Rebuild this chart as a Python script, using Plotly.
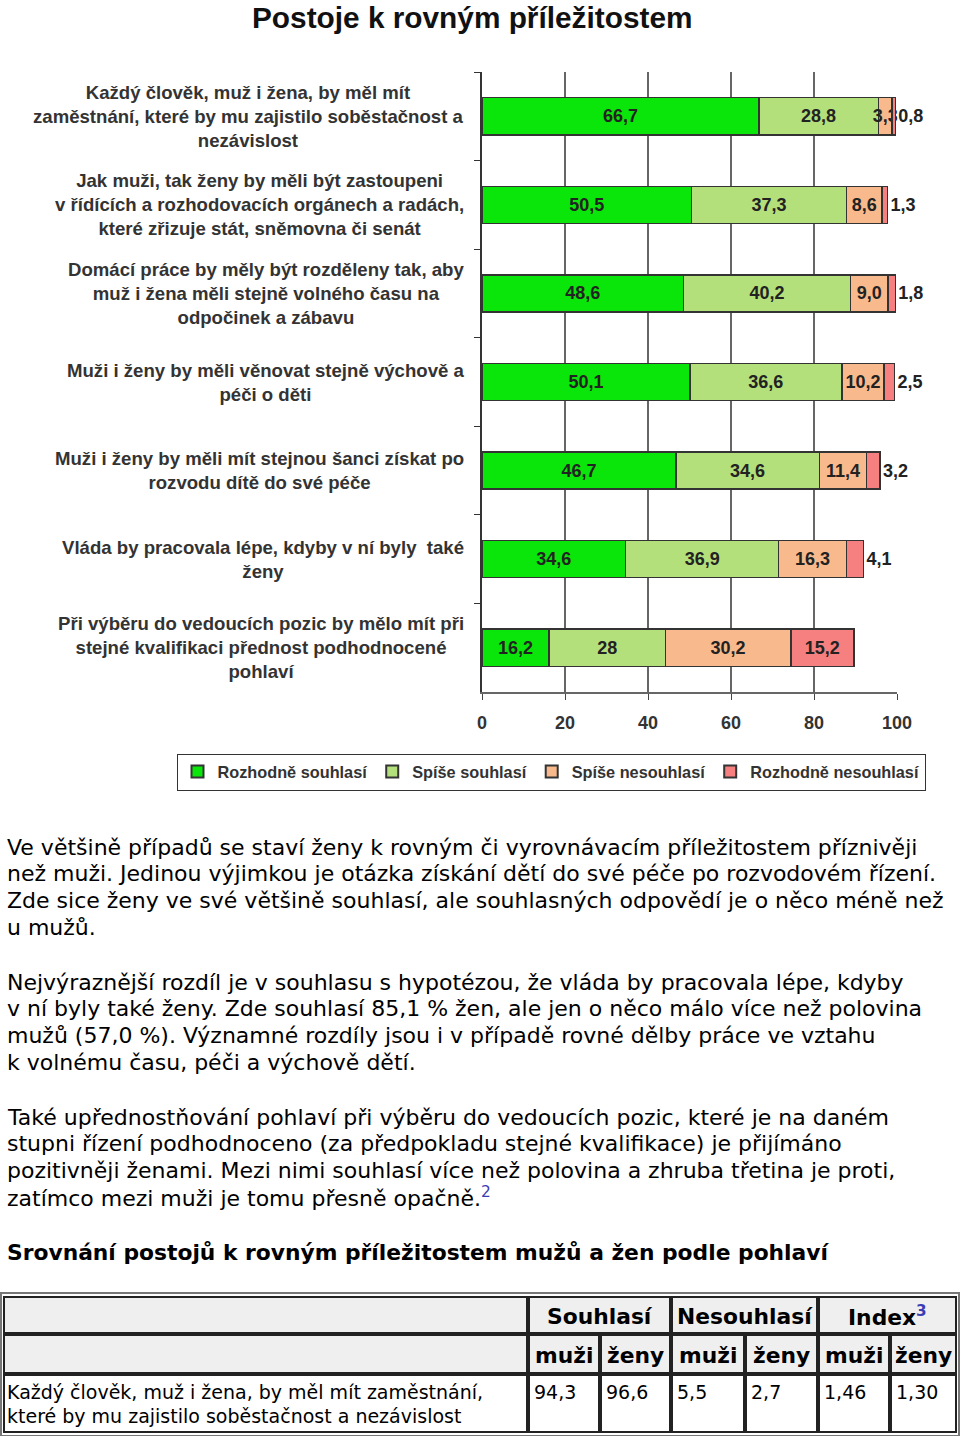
import plotly.graph_objects as go

# ---------------- data ----------------
chart_title = "Postoje k rovným příležitostem"
categories = [
    "Každý člověk, muž i žena, by měl mít<br>zaměstnání, které by mu zajistilo soběstačnost a<br>nezávislost",
    "Jak muži, tak ženy by měli být zastoupeni<br>v řídících a rozhodovacích orgánech a radách,<br>které zřizuje stát, sněmovna či senát",
    "Domácí práce by měly být rozděleny tak, aby<br>muž i žena měli stejně volného času na<br>odpočinek a zábavu",
    "Muži i ženy by měli věnovat stejně výchově a<br>péči o děti",
    "Muži i ženy by měli mít stejnou šanci získat po<br>rozvodu dítě do své péče",
    "Vláda by pracovala lépe, kdyby v ní byly  také<br>ženy",
    "Při výběru do vedoucích pozic by mělo mít při<br>stejné kvalifikaci přednost podhodnocené<br>pohlaví",
]
series_names = ["Rozhodně souhlasí", "Spíše souhlasí", "Spíše nesouhlasí", "Rozhodně nesouhlasí"]
rozhodne_souhlasi = [66.7, 50.5, 48.6, 50.1, 46.7, 34.6, 16.2]
spise_souhlasi = [28.8, 37.3, 40.2, 36.6, 34.6, 36.9, 28]
spise_nesouhlasi = [3.3, 8.6, 9.0, 10.2, 11.4, 16.3, 30.2]
rozhodne_nesouhlasi = [0.8, 1.3, 1.8, 2.5, 3.2, 4.1, 15.2]
x_ticks = [0, 20, 40, 60, 80, 100]

paragraphs = [
    ["Ve většině případů se staví ženy k rovným či vyrovnávacím příležitostem příznivěji",
     "než muži. Jedinou výjimkou je otázka získání dětí do své péče po rozvodovém řízení.",
     "Zde sice ženy ve své většině souhlasí, ale souhlasných odpovědí je o něco méně než",
     "u mužů."],
    ["Nejvýraznější rozdíl je v souhlasu s hypotézou, že vláda by pracovala lépe, kdyby",
     "v ní byly také ženy. Zde souhlasí 85,1 % žen, ale jen o něco málo více než polovina",
     "mužů (57,0 %). Významné rozdíly jsou i v případě rovné dělby práce ve vztahu",
     "k volnému času, péči a výchově dětí."],
    ["Také upřednostňování pohlaví při výběru do vedoucích pozic, které je na daném",
     "stupni řízení podhodnoceno (za předpokladu stejné kvalifikace) je přijímáno",
     "pozitivněji ženami. Mezi nimi souhlasí více než polovina a zhruba třetina je proti,",
     "zatímco mezi muži je tomu přesně opačně.<span style='color:#3c3cb4'><sup>2</sup></span>"],
]
table_heading = "Srovnání postojů k rovným příležitostem mužů a žen podle pohlaví"
table_groups = ["Souhlasí", "Nesouhlasí", "Index<span style='color:#3c3cb4'><sup>3</sup></span>"]
table_subheaders = ["muži", "ženy", "muži", "ženy", "muži", "ženy"]
table_row_label = ["Každý člověk, muž i žena, by měl mít zaměstnání,",
                   "které by mu zajistilo soběstačnost a nezávislost"]
table_values = ["94,3", "96,6", "5,5", "2,7", "1,46", "1,30"]

# ---------------- styles ----------------
W, H = 960, 1436
CHART_FONT = "Liberation Sans, Arial, sans-serif"
BODY_FONT = "DejaVu Sans, Verdana, sans-serif"
colors = ["#0ae60a", "#b4e07c", "#f8ba8c", "#f68080"]
BODY_SIZE = 22


def px(x):
    return x / W


def py(y):
    return 1 - y / H


def cz(v):
    return str(v).replace(".", ",")


series = [rozhodne_souhlasi, spise_souhlasi, spise_nesouhlasi, rozhodne_nesouhlasi]
label_font = dict(family=CHART_FONT, size=18, color="#222222", weight="bold")

fig = go.Figure()
for i, (name, vals) in enumerate(zip(series_names, series)):
    if i == 3:
        tpos = ["outside"] * 6 + ["inside"]
    else:
        tpos = "inside"
    fig.add_trace(go.Bar(
        y=categories, x=vals, name=name, orientation="h",
        marker=dict(color=colors[i], line=dict(color="#333333", width=1.5)),
        text=[cz(v) for v in vals], textposition=tpos, textangle=0,
        insidetextanchor="middle", constraintext="none",
        textfont=label_font, insidetextfont=label_font, outsidetextfont=label_font,
        cliponaxis=False, width=0.42, hoverinfo="skip",
    ))

annotations = []
annotations.append(dict(text=f"<b>{chart_title}</b>", xref="paper", yref="paper",
                        x=px(472), y=py(17), xanchor="center", yanchor="middle",
                        showarrow=False, font=dict(family=CHART_FONT, size=29.8, color="#111111")))
for c in categories:
    annotations.append(dict(text=f"<b>{c}</b>", xref="paper", yref="y", x=px(466), y=c,
                            xanchor="right", yanchor="middle", align="center", showarrow=False,
                            font=dict(family=CHART_FONT, size=18.6, color="#333333")))
para_starts = [847, 982, 1117]
for start, lines in zip(para_starts, paragraphs):
    for j, line in enumerate(lines):
        annotations.append(dict(text=line, xref="paper", yref="paper", x=px(5), y=py(start + j * 26.8),
                                xanchor="left", yanchor="middle", align="left", showarrow=False,
                                font=dict(family=BODY_FONT, size=BODY_SIZE, color="#000000")))
annotations.append(dict(text=f"<b>{table_heading}</b>", xref="paper", yref="paper", x=px(5), y=py(1252),
                        xanchor="left", yanchor="middle", showarrow=False,
                        font=dict(family=BODY_FONT, size=21.8, color="#000000")))

col_edges = [3, 528, 600, 671, 745, 818, 890, 957]
row_edges = [1296, 1334, 1374, 1433]
shapes = [dict(type="rect", xref="paper", yref="paper", x0=px(1), x1=px(959), y0=py(1293), y1=py(1436),
               line=dict(color="#777777", width=2), fillcolor="white", layer="below")]


def cell(x0, x1, y0, y1, fill):
    shapes.append(dict(type="rect", xref="paper", yref="paper", x0=px(x0 + 1), x1=px(x1 - 1),
                       y0=py(y0 + 1), y1=py(y1 - 1), line=dict(color="#222222", width=2),
                       fillcolor=fill, layer="below"))


HDR = "#efefef"
HDR_SIZE = 21.8
cell(col_edges[0], col_edges[1], row_edges[0], row_edges[1], HDR)
for g in range(3):
    cell(col_edges[1 + 2 * g], col_edges[3 + 2 * g], row_edges[0], row_edges[1], HDR)
    annotations.append(dict(text=f"<b>{table_groups[g]}</b>", xref="paper", yref="paper",
                            x=px((col_edges[1 + 2 * g] + col_edges[3 + 2 * g]) / 2), y=py(1316),
                            xanchor="center", yanchor="middle", showarrow=False,
                            font=dict(family=BODY_FONT, size=HDR_SIZE, color="#000000")))
cell(col_edges[0], col_edges[1], row_edges[1], row_edges[2], HDR)
for k in range(6):
    cell(col_edges[1 + k], col_edges[2 + k], row_edges[1], row_edges[2], HDR)
    annotations.append(dict(text=f"<b>{table_subheaders[k]}</b>", xref="paper", yref="paper",
                            x=px((col_edges[1 + k] + col_edges[2 + k]) / 2), y=py(1355),
                            xanchor="center", yanchor="middle", showarrow=False,
                            font=dict(family=BODY_FONT, size=HDR_SIZE, color="#000000")))
cell(col_edges[0], col_edges[1], row_edges[2], row_edges[3], "white")
for j, line in enumerate(table_row_label):
    annotations.append(dict(text=line, xref="paper", yref="paper", x=px(5), y=py(1392 + j * 24),
                            xanchor="left", yanchor="middle", showarrow=False,
                            font=dict(family=BODY_FONT, size=19, color="#000000")))
for k in range(6):
    cell(col_edges[1 + k], col_edges[2 + k], row_edges[2], row_edges[3], "white")
    annotations.append(dict(text=table_values[k], xref="paper", yref="paper",
                            x=px(col_edges[1 + k] + 4), y=py(1392),
                            xanchor="left", yanchor="middle", showarrow=False,
                            font=dict(family=BODY_FONT, size=19, color="#000000")))

fig.update_layout(
    width=W, height=H, autosize=False, margin=dict(l=0, r=0, t=0, b=0, autoexpand=False),
    paper_bgcolor="white", plot_bgcolor="white",
    barmode="stack", showlegend=True,
    legend=dict(orientation="h", x=px(551), y=py(772), xanchor="center", yanchor="middle",
                bgcolor="white", bordercolor="#333333", borderwidth=1,
                font=dict(family=CHART_FONT, size=16.3, color="#333333", weight="bold"),
                traceorder="normal", itemsizing="constant"),
    xaxis=dict(domain=[px(482), px(897)], range=[0, 100], tickvals=x_ticks,
               showgrid=True, gridcolor="#666666", gridwidth=1.5, zeroline=False,
               showline=True, linecolor="#666666", linewidth=1.5,
               ticks="outside", ticklen=6, tickcolor="#444444", ticklabelstandoff=8,
               tickfont=dict(family=CHART_FONT, size=18, color="#333333", weight="bold"),
               fixedrange=True, automargin=False),
    yaxis=dict(domain=[py(692), py(72)], categoryorder="array", categoryarray=categories,
               range=[6.5, -0.5], showticklabels=False, showgrid=False, zeroline=False,
               showline=True, linecolor="#333333", linewidth=1.5,
               ticks="outside", tickson="boundaries", ticklen=6, tickcolor="#333333",
               fixedrange=True, automargin=False),
    annotations=annotations, shapes=shapes,
)

fig.write_html(
    "out.html",
    post_script=("document.body.style.margin='0';document.body.style.overflow='hidden';"
                 "document.documentElement.style.overflow='hidden';"),
    config={"displayModeBar": False, "responsive": False},
)
